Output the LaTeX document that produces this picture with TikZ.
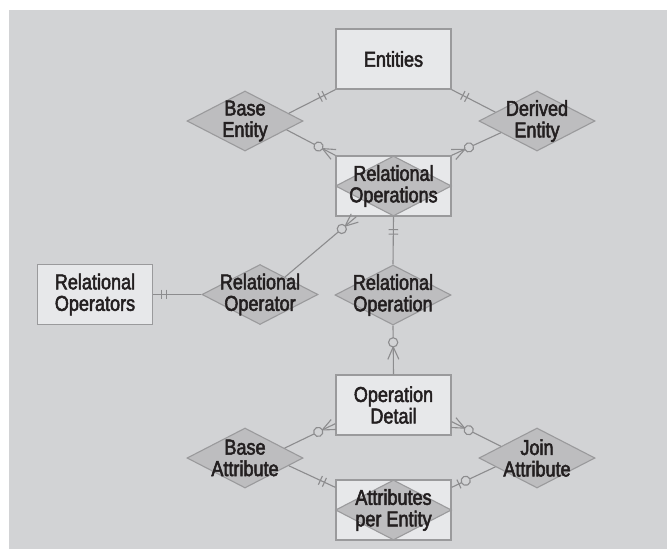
\documentclass[tikz,border=0pt]{standalone}
\usepackage{fontspec}
\setmainfont{Liberation Sans}[FakeStretch=0.84,FakeBold=2.4]
\usetikzlibrary{shapes.geometric,decorations.markings}

\definecolor{bgcol}{HTML}{D2D3D5}
\definecolor{boxfill}{HTML}{E7E8EA}
\definecolor{relfill}{HTML}{BDBDBF}
\definecolor{edgecol}{HTML}{9A9A9C}
\definecolor{linecol}{HTML}{8C8C8E}
\definecolor{inkcol}{HTML}{231F20}

\tikzset{
  entbox/.style={rectangle, draw=edgecol, fill=boxfill, line width=1.3pt,
    minimum width=115pt, minimum height=60pt, inner sep=0pt},
  relshape/.style={diamond, draw=edgecol, fill=relfill, line width=1.1pt,
    minimum width=116pt, minimum height=60pt, inner sep=0pt},
  lbl/.style={text=inkcol, align=center, inner sep=0pt,
    font=\fontsize{21.5}{21.5}\selectfont},
  conn/.style={draw=linecol, line width=1.1pt},
  % one and only one: two ticks, the first #1 from the end
  onlyone/.style={postaction={decorate, decoration={markings,
    mark=at position -#1 with {
      \draw[conn] (0pt,-4.8pt) -- (0pt,4.8pt) (-4.5pt,-4.8pt) -- (-4.5pt,4.8pt);}}}},
  onlyone/.default=12.5pt,
  % zero or many: crow's foot with a ring behind it
  zmany/.style={postaction={decorate, decoration={markings,
    mark=at position -#1 with {
      \draw[conn] (-12.5pt,0pt) -- (0pt,5.5pt) (-12.5pt,0pt) -- (0pt,-5.5pt);
      \draw[conn, fill=bgcol] (-17pt,0pt) circle[radius=4.6pt];}}}},
  zmany/.default=2pt,
  % zero or one: a tick with a ring behind it
  zeroone/.style={postaction={decorate, decoration={markings,
    mark=at position -#1 with {
      \draw[conn] (0pt,-4.8pt) -- (0pt,4.8pt);
      \draw[conn, fill=bgcol] (-7.5pt,0pt) circle[radius=4.6pt];}}}},
  zeroone/.default=8pt
}

\begin{document}
\begin{tikzpicture}[x=1pt,y=-1pt]
\useasboundingbox (0,0) rectangle (667,549);
\fill[bgcol] (9,10) rectangle (667,549);

% entities
\node[entbox] (ent)    at (393.5,59)  {};
\node[entbox] (rops)   at (393.5,186) {};
\node[entbox] (rotors) at (95,294.5)  {};
\node[entbox] (od)     at (393.5,405) {};
\node[entbox] (ape)    at (393.5,510) {};

% relationships
\node[relshape] (be)     at (245,121)   {};
\node[relshape] (de)     at (537,121)   {};
\node[relshape] (ropsd)  at (rops)      {};
\node[relshape] (rotor)  at (260,294.5) {};
\node[relshape] (rotion) at (393,295)   {};
\node[relshape] (ba)     at (245,458)   {};
\node[relshape] (ja)     at (537,458)   {};
\node[relshape] (aped)   at (ape)       {};

% connectors
\draw[conn, onlyone=12.5pt] (be.10) -- (ent.south west);
\draw[conn, zmany] (be.-12) -- (rops.north west);
\draw[conn, onlyone=12.5pt] (de.168) -- (ent.south east);
\draw[conn, zmany] (de.-162) -- (rops.north east);
\draw[conn, zmany] (rotor.35) -- ([xshift=21pt]rops.south west);
\draw[conn, onlyone=13pt] (rotion.north) -- (rops.south);
\draw[conn, onlyone=8.7pt] (rotor.west) -- (rotors.east);
\draw[conn, zmany=15pt] (rotion.south) -- (od.north);
\draw[conn, zmany] (ba.14) -- ([yshift=12pt]od.south west);
\draw[conn, zmany] (ja.162) -- ([yshift=14pt]od.south east);
\draw[conn, onlyone=12pt] (ba.-10) -- ([yshift=-8pt]ape.north west);
\draw[conn, zeroone=8pt] (ja.-168) -- ([yshift=-8pt]ape.north east);

% labels
\node[lbl] (ent-t)    at (ent)    {Entities};
\node[lbl] (be-t)     at (be)     {Base\\Entity};
\node[lbl] (de-t)     at (de)     {Derived\\Entity};
\node[lbl] (rops-t)   at (rops)   {Relational\\Operations};
\node[lbl] (rotors-t) at (rotors) {Relational\\Operators};
\node[lbl] (rotor-t)  at (rotor)  {Relational\\Operator};
\node[lbl] (rotion-t) at (rotion) {Relational\\Operation};
\node[lbl] (od-t)     at (od)     {Operation\\Detail};
\node[lbl] (ba-t)     at (ba)     {Base\\Attribute};
\node[lbl] (ja-t)     at (ja)     {Join\\Attribute};
\node[lbl] (ape-t)    at (ape)    {Attributes\\per Entity};
\end{tikzpicture}
\end{document}
